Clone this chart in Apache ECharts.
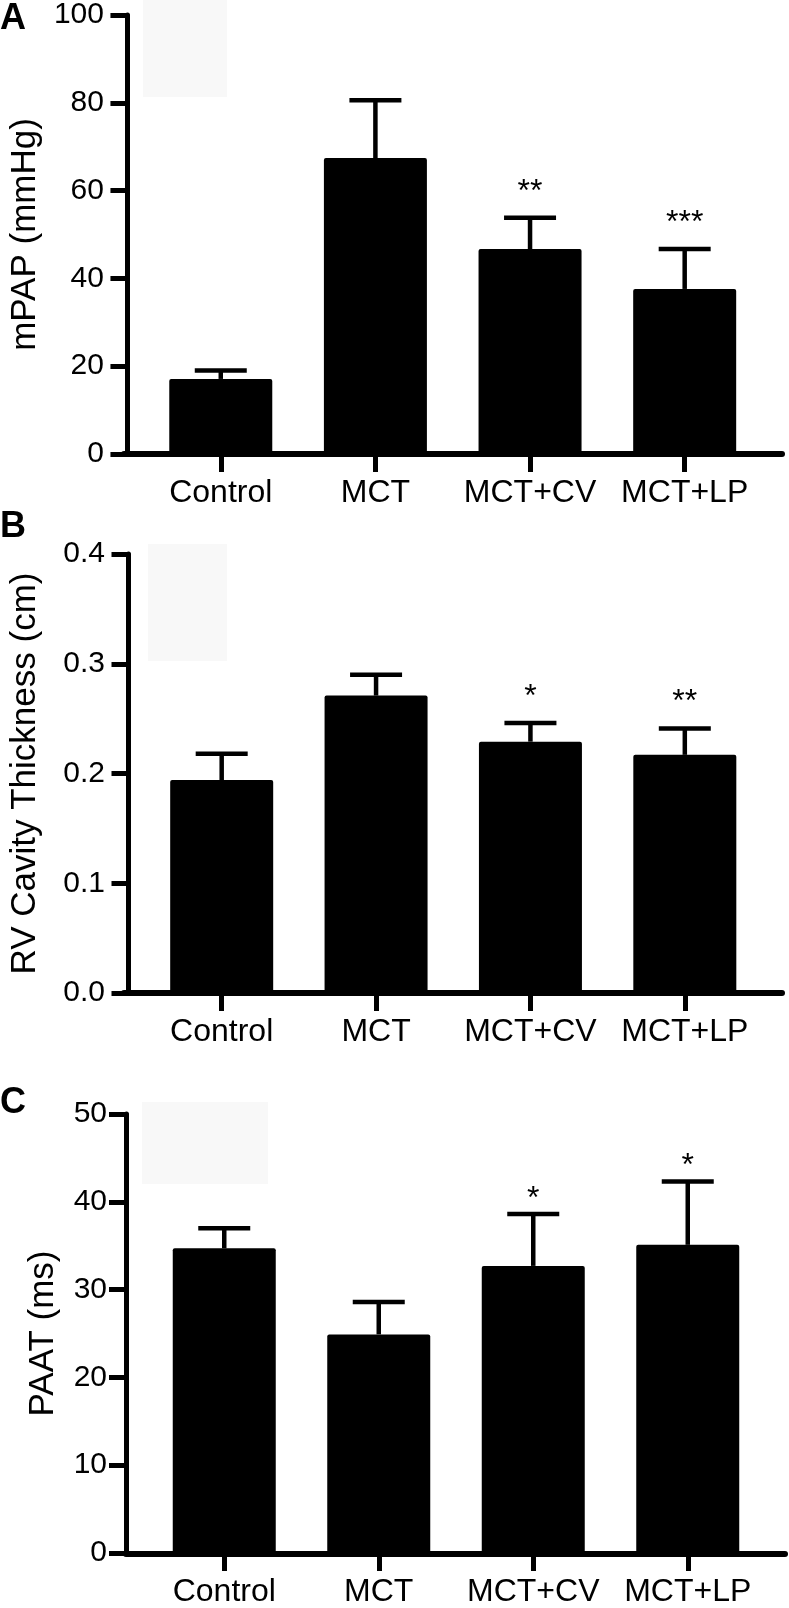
<!DOCTYPE html>
<html>
<head>
<meta charset="utf-8">
<script src="https://cdn.jsdelivr.net/npm/echarts@6/dist/echarts.min.js"></script>
<style>
  html, body { margin: 0; padding: 0; background: #fff; }
  #chart { width: 789px; height: 1608px; }
</style>
</head>
<body>
<div id="chart"></div>
<script>
const categories = ['Control', 'MCT', 'MCT+CV', 'MCT+LP']

// A: mPAP
const mpapMean = [17.1, 67.4, 46.7, 37.6]
const mpapErr = [1.9, 13.2, 7.1, 9.1]
const mpapSig = ['', '', '**', '***']
const mpapTicks = [0, 20, 40, 60, 80, 100]

// B: RV cavity thickness
const rvMean = [0.194, 0.271, 0.229, 0.217]
const rvErr = [0.024, 0.019, 0.017, 0.024]
const rvSig = ['', '', '*', '**']
const rvTicks = [0.0, 0.1, 0.2, 0.3, 0.4]

// C: PAAT
const paatMean = [34.7, 24.9, 32.7, 35.1]
const paatErr = [2.3, 3.7, 5.9, 7.2]
const paatSig = ['', '', '*', '*']
const paatTicks = [0, 10, 20, 30, 40, 50]

const font = '"Liberation Sans", Arial, sans-serif'

const panels = [
  {
    letter: 'A', letterY: 1, name: 'mPAP (mmHg)', nameGap: 81,
    mean: mpapMean, err: mpapErr, sig: mpapSig, ticks: mpapTicks, digits: 0,
    top: 15, bottom: 1154, left: 140, right: 27, axisX: 124, axisEnd: 782,
    labelMargin: 23.5, starGap: 26, shade: [143, 0, 84, 97]
  },
  {
    letter: 'B', letterY: 509, name: 'RV Cavity Thickness (cm)', nameGap: 86,
    mean: rvMean, err: rvErr, sig: rvSig, ticks: rvTicks, digits: 1,
    top: 554, bottom: 615, left: 140, right: 27, axisX: 124, axisEnd: 782,
    labelMargin: 23.5, starGap: 26, shade: [148, 544, 79, 117]
  },
  {
    letter: 'C', letterY: 1085, name: 'PAAT (ms)', nameGap: 66,
    mean: paatMean, err: paatErr, sig: paatSig, ticks: paatTicks, digits: 0,
    top: 1114, bottom: 54, left: 147, right: 24, axisX: 126, axisEnd: 785,
    labelMargin: 19, starGap: 15, shade: [142, 1102, 126, 82]
  }
]

function errorBar(sig, starGap) {
  return function(params, api) {
    const i = api.value(0)
    const base = api.coord([i, api.value(1)])
    const top = api.coord([i, api.value(2)])
    const line = { stroke: '#000', lineWidth: 4.5 }
    const children = [
      { type: 'line', shape: { x1: base[0], y1: base[1], x2: top[0], y2: top[1] }, style: line },
      { type: 'line', shape: { x1: top[0] - 26, y1: top[1], x2: top[0] + 26, y2: top[1] }, style: line }
    ]
    const stars = sig[params.dataIndex]
    if (stars) {
      children.push({
        type: 'text',
        x: top[0],
        y: top[1] - starGap,
        style: { text: stars, fill: '#000', font: '32px ' + font, align: 'center', verticalAlign: 'middle' }
      })
    }
    return { type: 'group', children }
  }
}

const grid = []
const xAxis = []
const yAxis = []
const series = []
const graphic = []

panels.forEach((p, k) => {
  const main = k * 2
  const frame = k * 2 + 1
  grid.push({ left: p.left, right: p.right, top: p.top, bottom: p.bottom })
  grid.push({ left: p.axisX, right: 789 - p.axisEnd, top: p.top, bottom: p.bottom })

  xAxis.push({
    gridIndex: main,
    type: 'category',
    data: categories,
    axisLine: { show: false },
    axisTick: { show: true, alignWithLabel: true, length: 18, lineStyle: { color: '#000', width: 5 } },
    axisLabel: { interval: 0, margin: 23, color: '#000', fontSize: 32, fontFamily: font, lineHeight: 32 }
  })
  xAxis.push({
    gridIndex: frame,
    type: 'value',
    min: 0,
    max: 1,
    axisLine: { show: true, onZero: false, lineStyle: { color: '#000', width: 6 } },
    axisTick: { show: false },
    axisLabel: { show: false },
    splitLine: { show: false }
  })

  const step = p.ticks[1] - p.ticks[0]
  yAxis.push({
    gridIndex: main,
    type: 'value',
    min: p.ticks[0],
    max: p.ticks[p.ticks.length - 1],
    interval: step,
    offset: p.left - p.axisX,
    name: p.name,
    nameLocation: 'middle',
    nameGap: p.nameGap,
    nameTextStyle: { color: '#000', fontSize: 35, fontFamily: font, lineHeight: 34 },
    axisLine: { show: true, lineStyle: { color: '#000', width: 5 } },
    axisTick: { show: true, length: 17, lineStyle: { color: '#000', width: 5 } },
    axisLabel: {
      margin: p.labelMargin, color: '#000', fontSize: 30, fontFamily: font,
      formatter: v => v.toFixed(p.digits)
    },
    splitLine: { show: false }
  })
  yAxis.push({ gridIndex: frame, type: 'value', min: 0, max: 1, show: false })

  series.push({
    type: 'bar',
    xAxisIndex: main,
    yAxisIndex: main,
    data: p.mean,
    barWidth: 103,
    itemStyle: { color: '#000', borderRadius: 2 },
    animation: false
  })
  series.push({
    type: 'custom',
    xAxisIndex: main,
    yAxisIndex: main,
    data: p.mean.map((m, i) => [i, m, m + p.err[i]]),
    renderItem: errorBar(p.sig, p.starGap),
    z: 5,
    animation: false
  })

  graphic.push({
    type: 'rect',
    shape: { x: p.shade[0], y: p.shade[1], width: p.shade[2], height: p.shade[3] },
    style: { fill: '#f8f8f8' },
    z: -10
  })
  graphic.push({
    type: 'text',
    x: 0,
    y: p.letterY,
    style: { text: p.letter, fill: '#000', font: 'bold 36px ' + font, verticalAlign: 'top' }
  })
})

const chart = echarts.init(document.getElementById('chart'))
chart.setOption({
  backgroundColor: '#fff',
  animation: false,
  grid,
  xAxis,
  yAxis,
  series,
  graphic
})
</script>
</body>
</html>
